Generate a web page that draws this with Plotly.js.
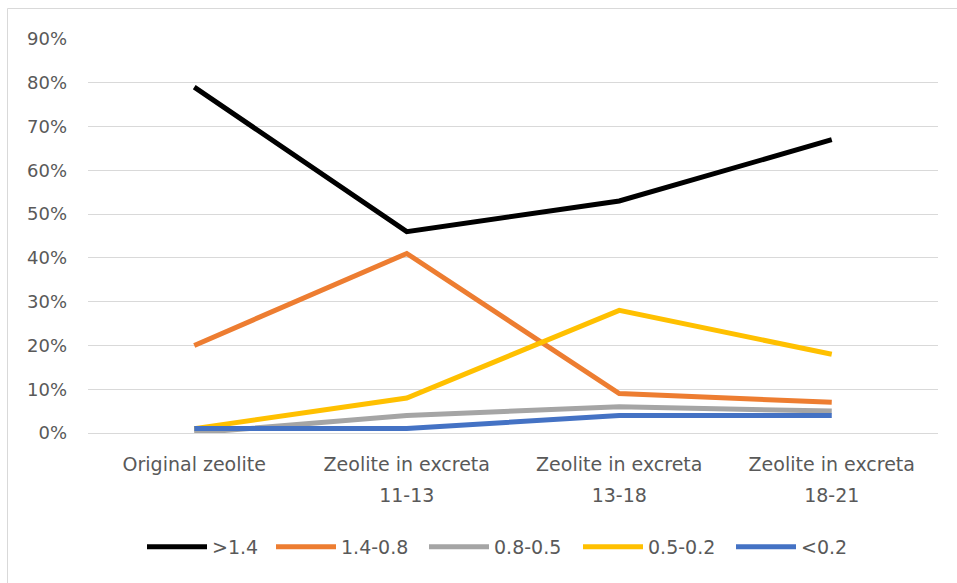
<!DOCTYPE html>
<html>
<head>
<meta charset="utf-8">
<script src="https://cdn.plot.ly/plotly-3.0.1.min.js"></script>
<style>html,body{margin:0;padding:0;background:#fff;}#chart{width:957px;height:583px;}</style>
</head>
<body>
<div id="chart"></div>
<script>
const catLine1 = ["Original zeolite", "Zeolite in excreta", "Zeolite in excreta", "Zeolite in excreta"];
const catLine2 = ["", "11-13", "13-18", "18-21"];
const seriesNames = [">1.4", "1.4-0.8", "0.8-0.5", "0.5-0.2", "<0.2"];
const s_gt14 = [0.79, 0.46, 0.53, 0.67];
const s_14_08 = [0.20, 0.41, 0.09, 0.07];
const s_08_05 = [0.00, 0.04, 0.06, 0.05];
const s_05_02 = [0.01, 0.08, 0.28, 0.18];
const s_lt02 = [0.01, 0.01, 0.04, 0.04];
const yTicks = [0, 0.1, 0.2, 0.3, 0.4, 0.5, 0.6, 0.7, 0.8, 0.9];
const yTickText = ["0%", "10%", "20%", "30%", "40%", "50%", "60%", "70%", "80%", "90%"];
const colors = ["#000000", "#ED7D31", "#A5A5A5", "#FFC000", "#4472C4"];
const legendWidths = [54, 78, 79, 78, 45];
const allSeries = [s_gt14, s_14_08, s_08_05, s_05_02, s_lt02];
const xPos = [0, 1, 2, 3];

const font = "'DejaVu Sans', sans-serif";
const traces = allSeries.map((ys, i) => ({
  x: xPos,
  y: ys,
  name: seriesNames[i],
  type: "scatter",
  mode: "lines",
  line: {color: colors[i], width: 5},
  legendwidth: legendWidths[i],
  hoverinfo: "skip"
}));
// invisible helper trace for the second line of category labels
traces.push({x: xPos, y: [null, null, null, null], xaxis: "x2", yaxis: "y", type: "scatter", mode: "lines", showlegend: false, hoverinfo: "skip"});

const L = 88, R = 938, T = 39, B = 433;
const W = 957, H = 583;
const pw = R - L, ph = B - T;
const px2x = p => (p - L) / pw;
const py2y = p => (B - p) / ph;
const tickFont = {family: font, size: 19, color: "#595959"};

const layout = {
  width: W, height: H,
  margin: {l: L, r: W - R, t: T, b: H - B, pad: 0},
  paper_bgcolor: "#fff",
  plot_bgcolor: "#fff",
  showlegend: true,
  font: {family: font, color: "#595959", size: 19},
  xaxis: {
    range: [-0.5, 3.5],
    tickvals: xPos,
    ticktext: catLine1,
    showgrid: false,
    zeroline: false,
    showline: true,
    linecolor: "#D9D9D9",
    linewidth: 1,
    ticks: "",
    ticklabelstandoff: 14,
    tickfont: tickFont,
    fixedrange: true
  },
  xaxis2: {
    range: [-0.5, 3.5],
    overlaying: "x",
    anchor: "y",
    side: "bottom",
    tickvals: xPos,
    ticktext: catLine2,
    showgrid: false,
    zeroline: false,
    showline: false,
    ticks: "",
    ticklabelstandoff: 49,
    tickfont: tickFont,
    fixedrange: true
  },
  yaxis: {
    range: [0, 0.9],
    tickvals: yTicks,
    ticktext: yTickText,
    showgrid: true,
    gridcolor: "#D9D9D9",
    gridwidth: 1,
    zeroline: false,
    showline: false,
    ticks: "",
    ticklabelstandoff: 20,
    tickfont: {family: font, size: 18, color: "#595959"},
    fixedrange: true
  },
  legend: {
    orientation: "h",
    x: px2x(142), xanchor: "left",
    y: py2y(547), yanchor: "middle",
    font: tickFont,
    itemwidth: 60,
    tracegroupgap: 0,
    bgcolor: "rgba(0,0,0,0)"
  },
  shapes: [{
    type: "rect", xref: "paper", yref: "paper",
    x0: px2x(7.5), x1: px2x(1000), y0: py2y(640), y1: py2y(8.5),
    line: {color: "#D9D9D9", width: 1}, fillcolor: "rgba(0,0,0,0)", layer: "below"
  }]
};

Plotly.newPlot("chart", traces, layout, {displayModeBar: false, staticPlot: true});
</script>
</body>
</html>
